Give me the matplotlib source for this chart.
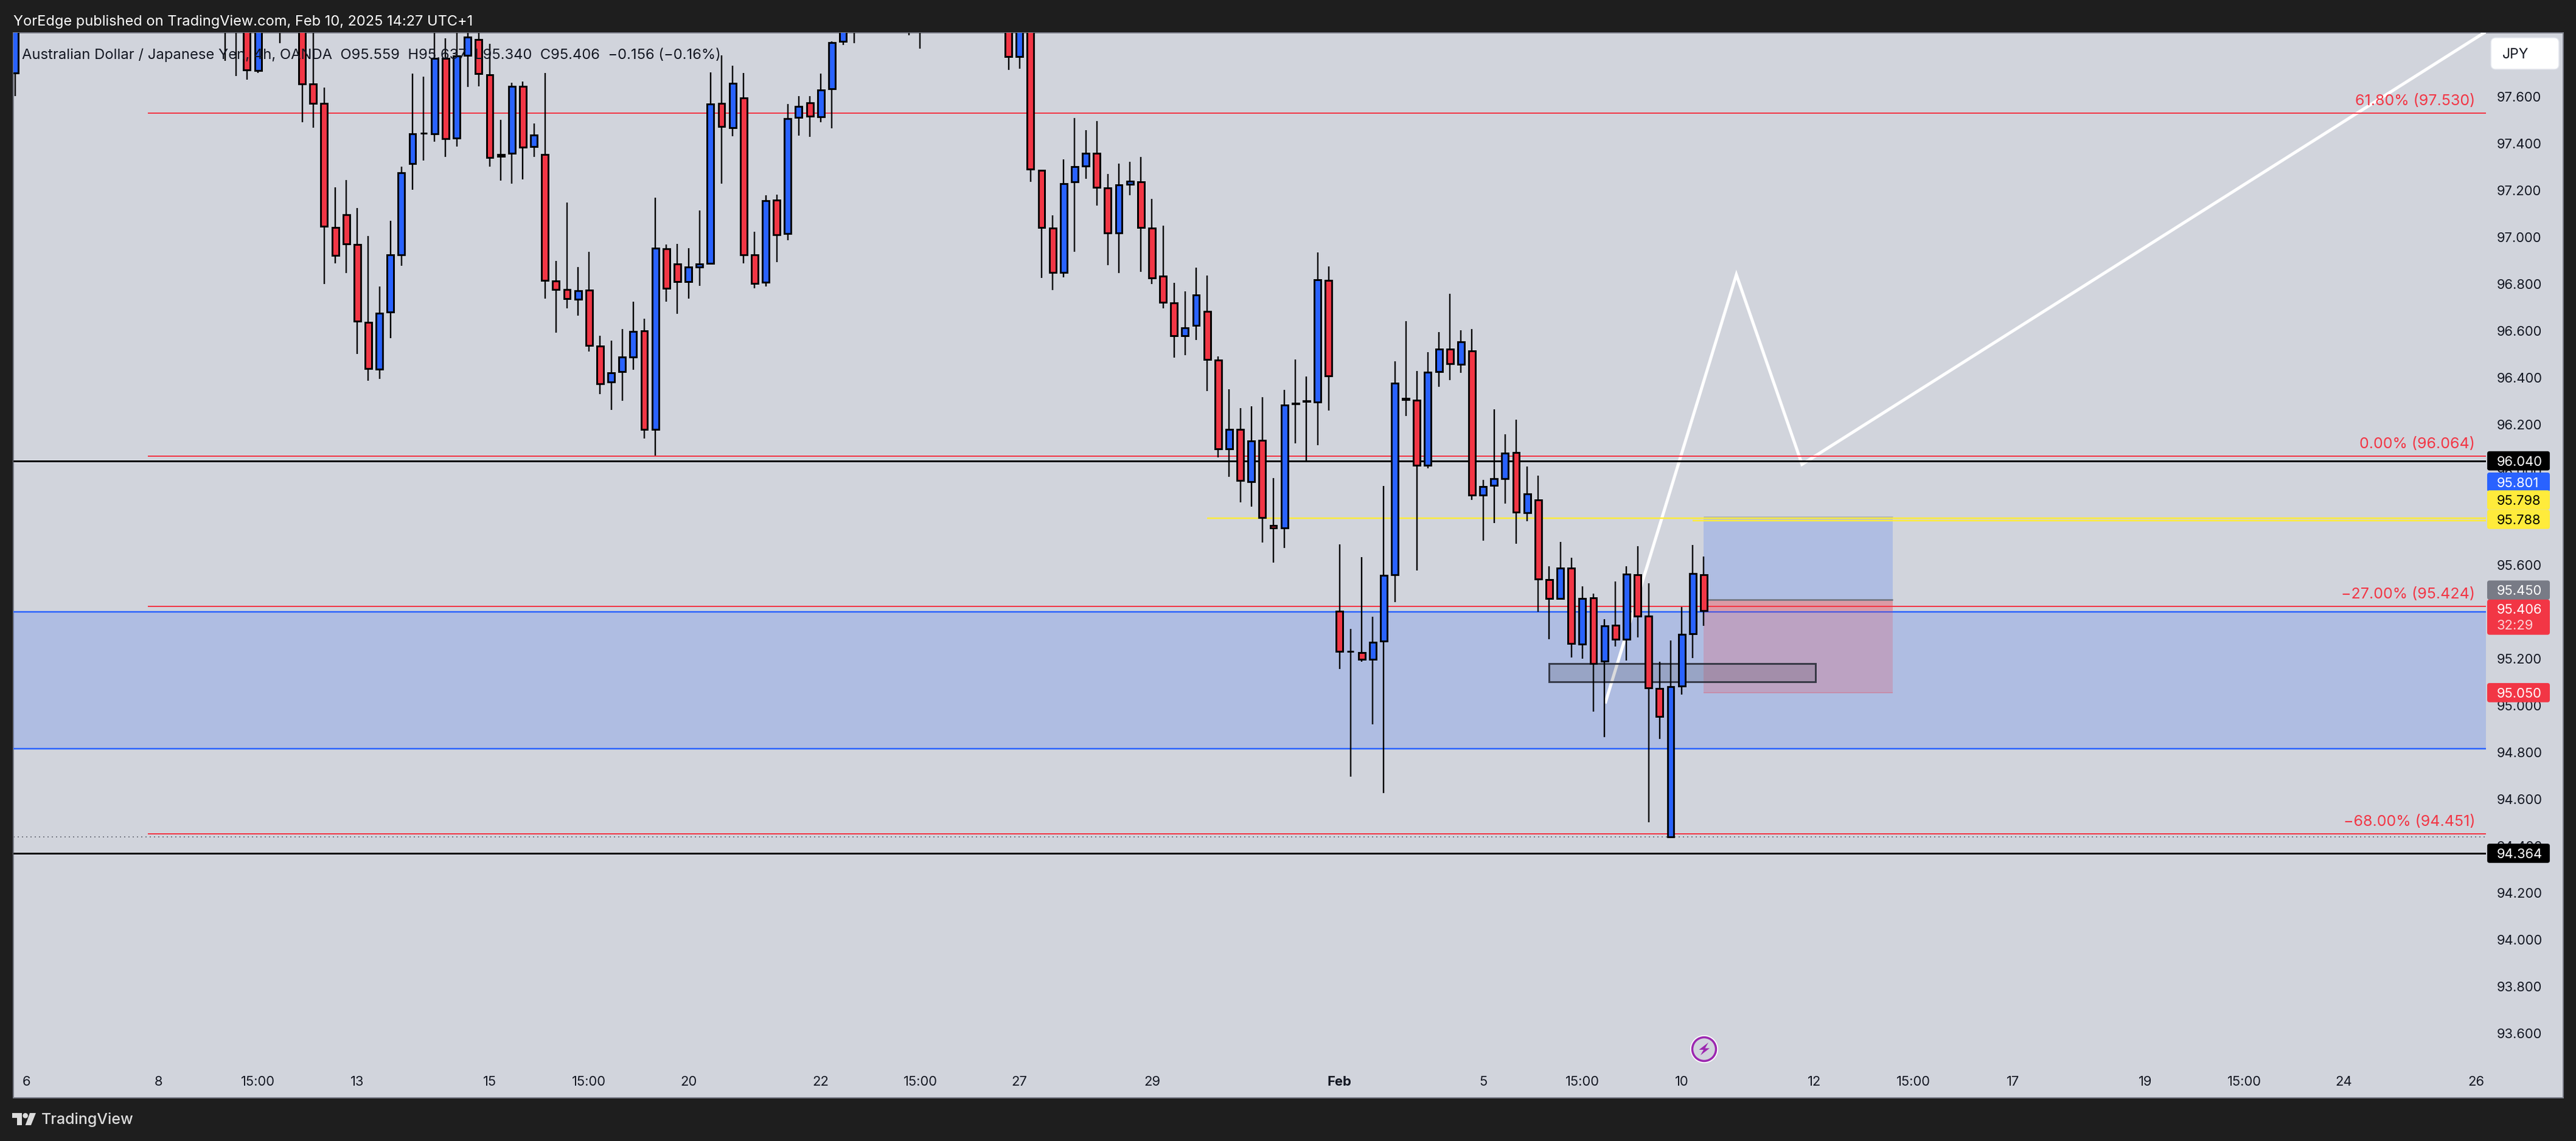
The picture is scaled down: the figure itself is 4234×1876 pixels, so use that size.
import matplotlib
matplotlib.use('Agg')
import matplotlib.pyplot as plt
from matplotlib.patches import Rectangle, FancyBboxPatch, Polygon, Circle

plt.rcParams['font.family'] = ['Inter', 'DejaVu Sans']

W, H = 4234, 1876
PX = 0.72  # points per pixel at dpi 100

# 4h candles, bars that sit fully above the view are left out
bar_idx = [0, 19, 20, 21, 22, 24] + list(range(26, 77)) + [81, 82] + list(range(90, 154))
opens = [97.702, 97.95, 98.05, 97.95, 97.711, 98.05,
         97.98, 97.655, 97.572, 97.042, 97.095, 96.969, 96.636, 96.436, 96.681, 96.925,
         97.315, 97.444, 97.442, 97.764, 97.423, 97.777, 97.843, 97.694, 97.345, 97.358,
         97.645, 97.387, 97.353, 96.812, 96.777, 96.736, 96.774, 96.535, 96.382, 96.425,
         96.489, 96.600, 96.179, 96.950, 96.885, 96.811, 96.873, 96.888, 97.572, 97.468,
         97.594, 96.925, 96.808, 97.158, 97.015, 97.512, 97.574, 97.515, 97.634, 97.837,
         98.05,
         98.05, 98.05,
         97.95, 97.772, 97.95, 97.286, 97.040, 96.850, 97.237, 97.303, 97.358, 97.210,
         97.018, 97.226, 97.236, 97.039, 96.833, 96.719, 96.579, 96.623, 96.683, 96.475,
         96.096, 96.178, 95.956, 96.132, 95.769, 95.759, 96.288, 96.299, 96.296, 96.815,
         95.403, 95.232, 95.226, 95.197, 95.275, 95.559, 96.312, 96.304, 96.027, 96.427,
         96.521, 96.458, 96.515, 95.899, 95.940, 95.970, 96.080, 95.824, 95.878, 95.538,
         95.457, 95.587, 95.262, 95.460, 95.189, 95.344, 95.282, 95.559, 95.382, 95.073,
         94.439, 95.082, 95.306, 95.559]
highs = [98.00, 98.10, 98.10, 98.05, 97.98, 98.10,
         98.05, 97.95, 97.639, 97.213, 97.244, 97.125, 97.006, 96.790, 97.071, 97.301,
         97.699, 97.686, 97.90, 97.85, 97.90, 97.90, 97.90, 97.827, 97.501, 97.659,
         97.666, 97.486, 97.702, 96.898, 97.148, 96.873, 96.938, 96.579, 96.558, 96.608,
         96.725, 96.652, 97.169, 96.969, 96.971, 96.953, 97.115, 97.703, 97.777, 97.732,
         97.702, 97.023, 97.178, 97.181, 97.568, 97.602, 97.602, 97.699, 97.837, 97.95,
         98.10,
         98.10, 98.10,
         98.05, 98.05, 98.05, 97.286, 97.094, 97.332, 97.509, 97.457, 97.497, 97.270,
         97.313, 97.322, 97.343, 97.163, 97.050, 96.806, 96.768, 96.869, 96.836, 96.491,
         96.351, 96.269, 96.277, 96.318, 95.972, 96.349, 96.478, 96.405, 96.936, 96.875,
         95.689, 95.326, 95.635, 95.378, 95.937, 96.471, 96.642, 96.428, 96.508, 96.595,
         96.759, 96.603, 96.609, 95.964, 96.264, 96.159, 96.220, 96.021, 95.983, 95.595,
         95.698, 95.630, 95.508, 95.478, 95.370, 95.529, 95.596, 95.680, 95.521, 95.186,
         95.278, 95.420, 95.685, 95.637]
lows = [97.602, 97.752, 97.688, 97.672, 97.70, 97.828,
        97.49, 97.468, 96.799, 96.888, 96.847, 96.50, 96.388, 96.394, 96.569, 96.877,
        97.202, 97.327, 97.407, 97.344, 97.386, 97.642, 97.645, 97.301, 97.242, 97.228,
        97.247, 97.344, 96.737, 96.592, 96.697, 96.664, 96.512, 96.330, 96.262, 96.301,
        96.433, 96.140, 96.068, 96.724, 96.673, 96.738, 96.792, 96.887, 97.228, 97.431,
        96.888, 96.783, 96.789, 96.893, 96.986, 97.434, 97.429, 97.492, 97.466, 97.822,
        97.829,
        97.862, 97.805,
        97.714, 97.719, 97.237, 96.825, 96.773, 96.828, 96.938, 97.250, 97.135, 96.880,
        96.848, 97.179, 96.853, 96.800, 96.696, 96.486, 96.497, 96.562, 96.342, 96.061,
        95.976, 95.868, 95.849, 95.695, 95.610, 95.674, 96.120, 96.038, 96.112, 96.261,
        95.157, 94.695, 95.188, 94.919, 94.627, 95.441, 96.236, 95.577, 96.014, 96.360,
        96.389, 96.420, 95.877, 95.703, 95.778, 95.863, 95.690, 95.786, 95.401, 95.284,
        95.453, 95.206, 95.199, 94.974, 94.864, 95.253, 95.191, 95.292, 94.500, 94.856,
        94.439, 95.047, 95.202, 95.340]
closes = [97.95, 98.05, 97.95, 97.715, 97.95, 97.95,
          97.655, 97.572, 97.047, 96.922, 96.971, 96.641, 96.439, 96.676, 96.924, 97.275,
          97.442, 97.445, 97.764, 97.421, 97.774, 97.855, 97.699, 97.341, 97.354, 97.645,
          97.385, 97.437, 96.815, 96.777, 96.738, 96.771, 96.538, 96.374, 96.420, 96.488,
          96.598, 96.179, 96.953, 96.782, 96.811, 96.873, 96.885, 97.569, 97.472, 97.658,
          96.925, 96.803, 97.156, 97.010, 97.507, 97.558, 97.517, 97.629, 97.831, 97.95,
          98.10,
          97.95, 97.95,
          97.772, 97.95, 97.292, 97.042, 96.850, 97.229, 97.302, 97.358, 97.213, 97.018,
          97.223, 97.239, 97.042, 96.826, 96.722, 96.578, 96.612, 96.754, 96.479, 96.095,
          96.178, 95.961, 96.131, 95.803, 95.759, 96.282, 96.292, 96.300, 96.817, 96.408,
          95.230, 95.231, 95.197, 95.271, 95.556, 96.376, 96.306, 96.027, 96.423, 96.521,
          96.460, 96.553, 95.899, 95.936, 95.969, 96.077, 95.827, 95.903, 95.539, 95.457,
          95.587, 95.264, 95.458, 95.180, 95.341, 95.282, 95.561, 95.383, 95.075, 94.953,
          95.081, 95.305, 95.564, 95.406]

# price scale and time scale
price_ticks = [93.6, 93.8, 94.0, 94.2, 94.4, 94.6, 94.8, 95.0, 95.2, 95.4, 95.6, 95.8, 96.0,
               96.2, 96.4, 96.6, 96.8, 97.0, 97.2, 97.4, 97.6]
time_ticks = [1, 13, 22, 31, 43, 52, 61, 73, 82, 91, 103, 120, 133, 142, 151, 163, 172, 181,
              193, 202, 211, 223]
time_labels = ['6', '8', '15:00', '13', '15', '15:00', '20', '22', '15:00', '27', '29', 'Feb',
               '5', '15:00', '10', '12', '15:00', '17', '19', '15:00', '24', '26']

# drawings
fib_levels = [97.530, 96.064, 95.424, 94.451]
fib_labels = ['61.80% (97.530)', '0.00% (96.064)', '\u221227.00% (95.424)', '\u221268.00% (94.451)']
black_levels = [96.045, 94.369]
zone_top, zone_bottom = 95.400, 94.816
path_x = [144.1, 155.95, 161.9, 223.7]
path_y = [95.015, 96.84, 96.03, 97.873]

# price tags on the right: text, centre price, fill, text colour
tag_labels = ['96.040', '95.801', '95.798', '95.788', '95.450', '95.050', '94.364']
tag_prices = [96.045, 95.954, 95.878, 95.795, 95.493, 95.055, 94.369]
tag_fills = ['#000000', '#2962ff', '#ffeb3b', '#ffeb3b', '#787b86', '#f23645', '#000000']
tag_texts = ['white', 'white', 'black', 'black', 'white', 'white', 'white']

BG = '#d1d4dc'
DARK = '#1e1e1e'
BLUE = '#2962ff'
RED = '#f23645'
YELLOW = '#ffeb3b'
TEXT = '#131722'

STEP = 18.14
X0 = 25
P_TOP = 97.6 + (159 - 54) / 385
P_BOT = 97.6 - (1805 - 159) / 385


def py(price):
    return 159 + (97.6 - price) * 385


fig = plt.figure(figsize=(W / 100, H / 100), dpi=100, facecolor=DARK)

# pixel canvas for the frame of the chart, it stays behind the price axes
back = fig.add_axes([0, 0, 1, 1], zorder=0)
back.set_xlim(0, W)
back.set_ylim(H, 0)
back.axis('off')
back.add_patch(Rectangle((22, 54), 4213 - 22, 1805 - 54, facecolor=BG, edgecolor='#787b86', lw=2 * PX))

ax = fig.add_axes([22 / W, 1 - 1805 / H, (4086 - 22) / W, (1805 - 54) / H], zorder=1)
ax.patch.set_alpha(0)
ax.set_xlim((22 - X0) / STEP, (4086 - X0) / STEP)
ax.set_ylim(P_BOT, P_TOP)
for spine in ax.spines.values():
    spine.set_visible(False)

# blue zone
ax.axhspan(zone_bottom, zone_top, color=BLUE, alpha=0.2, lw=0, zorder=1)
ax.axhline(zone_top, color=BLUE, lw=2.5 * PX, zorder=2)
ax.axhline(zone_bottom, color=BLUE, lw=2.5 * PX, zorder=2)

# long position tool
ax.add_patch(Rectangle((153.0, 95.45), 17.1, 95.805 - 95.45, facecolor=BLUE, alpha=0.2, lw=0, zorder=2))
ax.add_patch(Rectangle((153.0, 95.055), 17.1, 95.45 - 95.055, facecolor=RED, alpha=0.2, lw=0, zorder=2))
ax.add_patch(Rectangle((153.0, 95.406), 17.1, 95.45 - 95.406, facecolor=RED, alpha=0.2, lw=0, zorder=2))
ax.hlines(95.452, 153.0, 170.1, color='#787b86', lw=3 * PX, zorder=3)
ax.hlines(95.805, 153.0, 170.1, color='#787b86', lw=3 * PX, alpha=0.3, zorder=3)
ax.hlines(95.055, 153.0, 170.1, color=RED, lw=2 * PX, alpha=0.25, zorder=3)

# white projected path, under the dark box
ax.plot(path_x, path_y, color='white', lw=5 * PX, zorder=3, solid_joinstyle='miter')

# small dark box
ax.add_patch(Rectangle((139.0, 95.101), 24.1, 95.18 - 95.101, facecolor='#2a2e39', alpha=0.17, lw=0, zorder=4))
ax.add_patch(Rectangle((139.0, 95.101), 24.1, 95.18 - 95.101, facecolor='none', edgecolor='#2a2e39',
                       alpha=0.9, lw=3 * PX, zorder=4))

# levels
ax.hlines(fib_levels, 12, (4086 - X0) / STEP, color=RED, lw=2 * PX, zorder=3)
for lev, lab in zip(fib_levels, fib_labels):
    ax.annotate(lab, xy=((4068 - X0) / STEP, lev), xytext=(0, 8 * PX), textcoords='offset points',
                ha='right', va='bottom', color=RED, fontsize=25 * PX, zorder=7)
ax.axhline(black_levels[0], color='black', lw=3 * PX, zorder=3)
ax.axhline(black_levels[1], color='black', lw=3 * PX, zorder=3)
ax.axhline(94.44, color='#787b86', lw=2 * PX, ls=(0, (1, 2.5)), zorder=3)
ax.hlines(95.80, 108, (4086 - X0) / STEP, color=YELLOW, lw=2.5 * PX, zorder=3)
ax.hlines(95.79, 152, (4086 - X0) / STEP, color=YELLOW, lw=2.5 * PX, zorder=3)

# candles
ax.vlines(bar_idx, lows, highs, color='black', lw=2.4 * PX, zorder=5)
colors = [BLUE if c >= o else RED for o, c in zip(opens, closes)]
heights = [c - o for o, c in zip(opens, closes)]
ax.bar(bar_idx, heights, bottom=opens, width=0.6, color=colors, edgecolor='black', linewidth=3 * PX, zorder=6)

# axis labels
ax.yaxis.tick_right()
ax.set_yticks(price_ticks)
ax.set_yticklabels(['%.3f' % p for p in price_ticks], fontsize=22 * PX, color=TEXT)
ax.set_xticks(time_ticks)
ax.set_xticklabels(time_labels, fontsize=22 * PX, color=TEXT)
ax.tick_params(axis='y', length=0, pad=18 * PX)
ax.tick_params(axis='x', length=0, pad=-36 * PX)
for lab in ax.get_xticklabels():
    if lab.get_text() == 'Feb':
        lab.set_fontweight('bold')
    lab.set_zorder(8)

# overlay: legend text, tags, icon and header
ov = fig.add_axes([0, 0, 1, 1], zorder=2)
ov.set_xlim(0, W)
ov.set_ylim(H, 0)
ov.axis('off')
ov.patch.set_alpha(0)

ov.text(22, 36, 'YorEdge published on TradingView.com, Feb 10, 2025 14:27 UTC+1', color='white',
        fontsize=23.6 * PX, va='center', ha='left')
ov.text(36, 90, 'Australian Dollar / Japanese Yen, 4h, OANDA  O95.559  H95.637  L95.340  C95.406  '
        '\u22120.156 (\u22120.16%)', color=TEXT, fontsize=23.8 * PX, va='center', ha='left')

for lab, price, fill, tcol in zip(tag_labels, tag_prices, tag_fills, tag_texts):
    yc = py(price)
    ov.add_patch(FancyBboxPatch((4088, yc - 15.8), 103, 31.6, boxstyle='round,pad=0,rounding_size=4',
                                facecolor=fill, edgecolor='none'))
    ov.text(4104, yc, lab, color=tcol, fontsize=22 * PX, va='center_baseline', ha='left')

# current price tag with the countdown
ov.add_patch(FancyBboxPatch((4088, 985.8), 103, 57.9, boxstyle='round,pad=0,rounding_size=4',
                            facecolor=RED, edgecolor='none'))
ov.text(4104, 1000.7, '95.406', color='white', fontsize=22 * PX, va='center_baseline', ha='left')
ov.text(4104, 1027, '32:29', color='#fcd5d8', fontsize=22 * PX, va='center_baseline', ha='left')

# currency button
ov.add_patch(FancyBboxPatch((4094, 62), 112, 52, boxstyle='round,pad=0,rounding_size=8',
                            facecolor='white', edgecolor='#e0e3eb', lw=1.5 * PX))
ov.text(4113, 88, 'JPY', color=TEXT, fontsize=23 * PX, va='center_baseline', ha='left')

# lightning icon
ov.add_patch(Circle((2801, 1725), 23, facecolor='white', edgecolor='none'))
ov.add_patch(Circle((2801, 1725), 19.5, facecolor=BG, edgecolor='#9c27b0', lw=3.5 * PX))
ov.add_patch(Polygon([(2808, 1714), (2792.5, 1726), (2800, 1726), (2795, 1735), (2810, 1723.5), (2802.5, 1723.5)],
                     closed=True, facecolor='#9c27b0', edgecolor='none'))

# TradingView logo
LOGO = '#dcdcdc'
ov.add_patch(Polygon([(20, 1830), (35.7, 1830), (35.7, 1850), (28, 1850), (28, 1837.7), (20, 1837.7)],
                     closed=True, facecolor=LOGO, edgecolor='none'))
ov.add_patch(Circle((41.7, 1834.3), 4.3, facecolor=LOGO, edgecolor='none'))
ov.add_patch(Polygon([(49, 1830), (59, 1830), (51, 1850), (41.7, 1850)], closed=True, facecolor=LOGO, edgecolor='none'))
ov.text(68, 1841, 'TradingView', color=LOGO, fontsize=25 * PX, va='center', ha='left', fontweight='medium')

fig.savefig('out.png', dpi=100, facecolor=DARK)
